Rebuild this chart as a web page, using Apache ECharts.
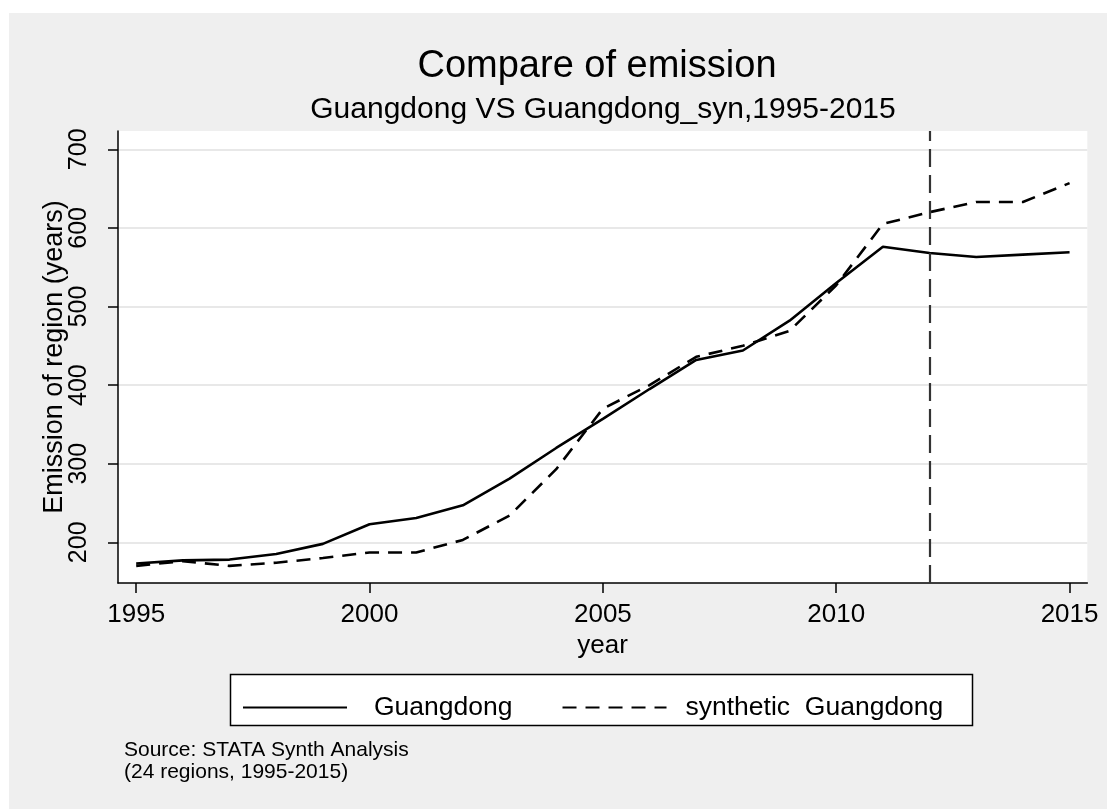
<!DOCTYPE html>
<html>
<head>
<meta charset="utf-8">
<title>Compare of emission</title>
<script src="https://cdn.jsdelivr.net/npm/echarts@6/dist/echarts.min.js"></script>
<style>
  html, body { margin: 0; padding: 0; background: #ffffff; }
  #panel { position: absolute; left: 9px; top: 13px; width: 1098px; height: 796px; background: #efefef; }
  #chart { position: absolute; left: 0; top: 0; width: 1107px; height: 810px; }
</style>
</head>
<body>
<div id="panel"></div>
<div id="chart"></div>
<script>
// Emission per year, observed region and its synthetic control
const years = [1995, 1996, 1997, 1998, 1999, 2000, 2001, 2002, 2003, 2004, 2005,
               2006, 2007, 2008, 2009, 2010, 2011, 2012, 2013, 2014, 2015];
const guangdong = [173, 177, 178, 185, 198, 223, 231, 247, 281, 320, 357,
                   395, 432, 444, 482, 530, 576, 568, 563, 566, 569];
const syntheticGuangdong = [170, 176, 170, 174, 180, 187, 187, 203, 234, 293, 370,
                            400, 436, 450, 469, 527, 605, 620, 633, 633, 657];
const xTicks = [1995, 2000, 2005, 2010, 2015];
const yTicks = [200, 300, 400, 500, 600, 700];
const treatmentYear = 2012;

const FONT = '"Liberation Sans", Arial, Helvetica, sans-serif';

const pairs = (vals) => years.map((y, i) => [y, vals[i]]);

const chart = echarts.init(document.getElementById('chart'), null, { renderer: 'canvas' });

chart.setOption({
  backgroundColor: 'transparent',
  animation: false,
  textStyle: { fontFamily: FONT, color: '#000' },
  grid: {
    left: 118, top: 131, right: 19.7, bottom: 227,
    show: true, backgroundColor: '#ffffff', borderWidth: 0
  },
  xAxis: {
    type: 'value',
    min: 1994.61, max: 2015.38,
    name: 'year',
    nameLocation: 'middle',
    nameGap: 50,
    nameMoveOverlap: false,
    nameTextStyle: { fontSize: 26, color: '#000', fontFamily: FONT },
    axisLine: { show: true, onZero: false, lineStyle: { color: '#000', width: 1.5 } },
    axisTick: { show: true, length: 10, lineStyle: { color: '#000', width: 1.5 }, customValues: xTicks },
    axisLabel: { fontSize: 26, color: '#000', margin: 19, fontFamily: FONT, customValues: xTicks,
                 formatter: (v) => String(v) },
    splitLine: { show: false }
  },
  yAxis: {
    type: 'value',
    min: 148.2, max: 723.3,
    name: 'Emission of region (years)',
    nameLocation: 'middle',
    nameRotate: 90,
    nameGap: 50,
    nameMoveOverlap: false,
    nameTextStyle: { fontSize: 27, color: '#000', fontFamily: FONT },
    axisLine: { show: true, onZero: false, lineStyle: { color: '#000', width: 1.5 } },
    axisTick: { show: true, length: 10, lineStyle: { color: '#000', width: 1.5 }, customValues: yTicks },
    axisLabel: { fontSize: 25, color: '#000', margin: 26, rotate: 90, fontFamily: FONT, customValues: yTicks,
                 formatter: (v) => String(v) },
    splitLine: { show: true, lineStyle: { color: '#e8e8e8', width: 2 } }
  },
  legend: {
    left: 242,
    top: 694,
    padding: 0,
    orient: 'horizontal',
    itemWidth: 104,
    itemHeight: 14,
    itemGap: 49,
    selectedMode: false,
    itemStyle: { opacity: 0, borderWidth: 0 },
    textStyle: { fontSize: 26.5, color: '#000', fontFamily: FONT },
    data: [
      { name: 'Guangdong', textStyle: { padding: [0, 0, 0, 22] } },
      { name: 'synthetic  Guangdong', textStyle: { padding: [0, 0, 0, 14] } }
    ]
  },
  graphic: [
    {
      type: 'rect', z: 0,
      shape: { x: 230.5, y: 674.5, width: 742, height: 51 },
      style: { fill: '#ffffff', stroke: '#000', lineWidth: 1.5 }
    },
    {
      type: 'text', z: 5,
      style: { x: 597, y: 67, text: 'Compare of emission', textAlign: 'center', textVerticalAlign: 'middle',
               font: '38px ' + FONT, fill: '#000' }
    },
    {
      type: 'text', z: 5,
      style: { x: 603, y: 110, text: 'Guangdong VS Guangdong_syn,1995-2015', textAlign: 'center', textVerticalAlign: 'middle',
               font: '30px ' + FONT, fill: '#000' }
    },
    {
      type: 'text', z: 5,
      style: { x: 124, y: 750, text: 'Source: STATA Synth Analysis', textAlign: 'left', textVerticalAlign: 'middle',
               font: '21px ' + FONT, fill: '#000' }
    },
    {
      type: 'text', z: 5,
      style: { x: 124, y: 772, text: '(24 regions, 1995-2015)', textAlign: 'left', textVerticalAlign: 'middle',
               font: '21px ' + FONT, fill: '#000' }
    }
  ],
  series: [
    {
      name: 'Guangdong',
      type: 'line',
      data: pairs(guangdong),
      symbol: 'none',
      showSymbol: false,
      lineStyle: { color: '#000', width: 2.6, type: 'solid' },
      itemStyle: { color: '#000' },
      z: 3,
      markLine: {
        silent: true,
        symbol: 'none',
        label: { show: false },
        lineStyle: { color: '#333', width: 2.2, type: [18, 8] },
        data: [{ xAxis: treatmentYear }]
      }
    },
    {
      name: 'synthetic  Guangdong',
      type: 'line',
      data: pairs(syntheticGuangdong),
      symbol: 'none',
      showSymbol: false,
      lineStyle: { color: '#000', width: 2.6, type: [14, 9] },
      itemStyle: { color: '#000' },
      z: 3
    }
  ]
});
</script>
</body>
</html>
